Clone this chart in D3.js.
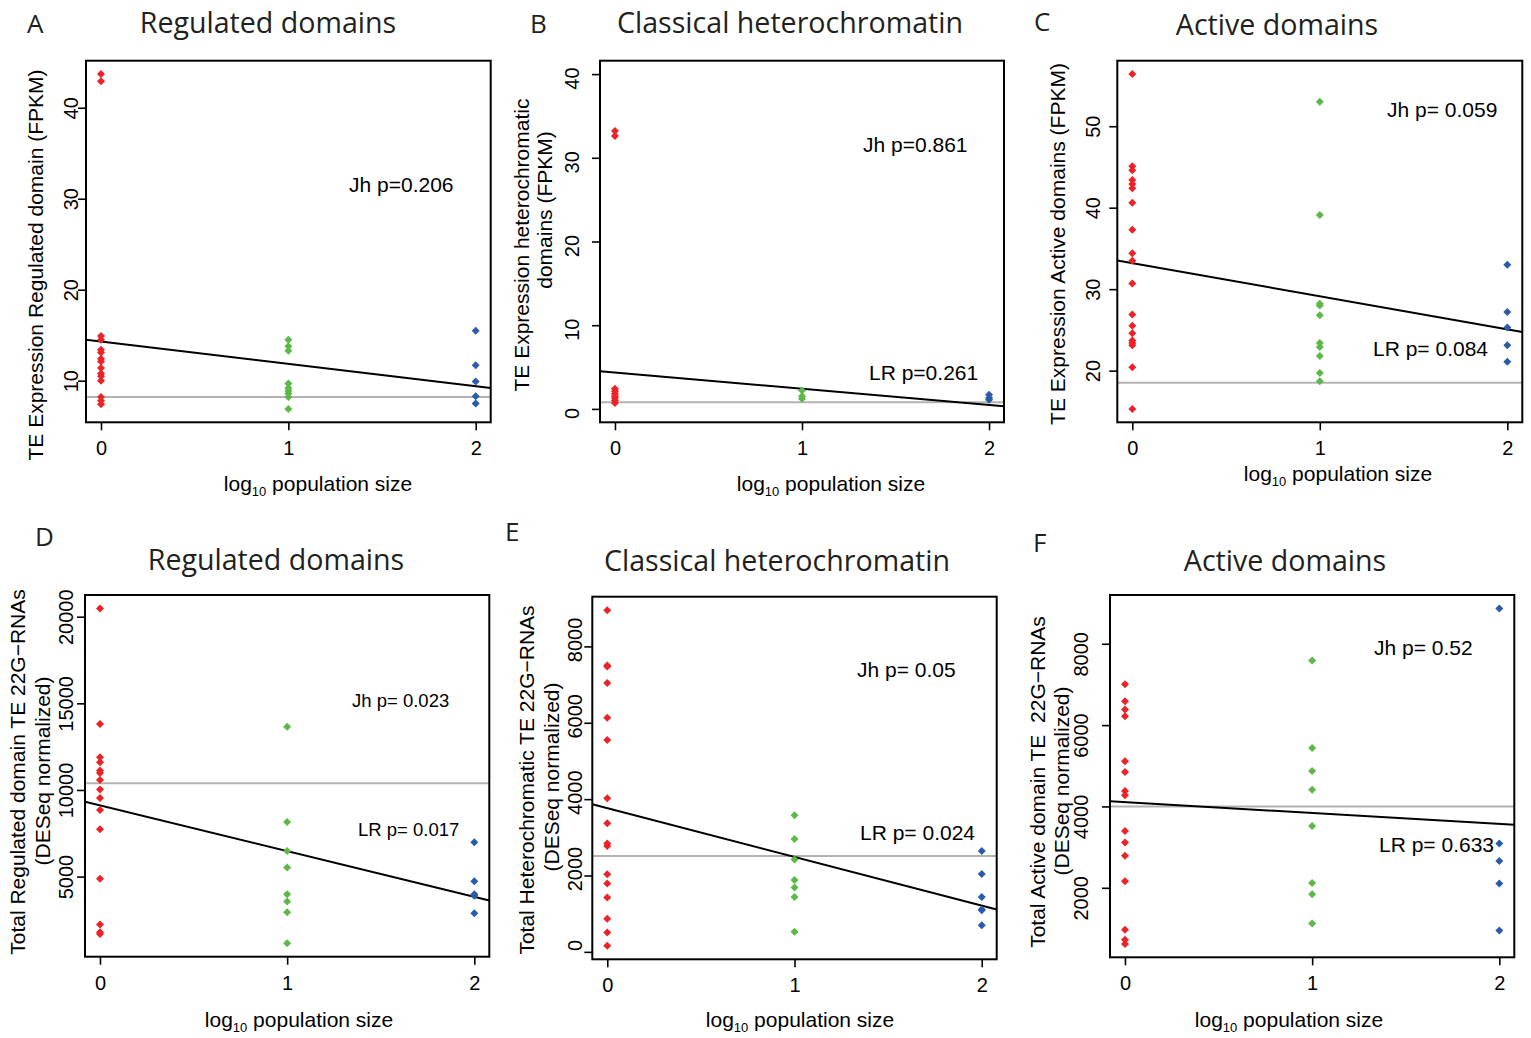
<!DOCTYPE html>
<html>
<head>
<meta charset="utf-8">
<script src="https://cdn.jsdelivr.net/npm/d3@7.9.0/dist/d3.min.js"></script>
<style>
  body { margin: 0; background: #fff; }
  svg { display: block; }
  text { font-family: "Liberation Sans", Arial, sans-serif; fill: #000; }
  .title, .letter { font-family: "Open Sans", "Noto Sans", sans-serif; fill: #231f20; }
</style>
</head>
<body>
<svg id="fig" width="1531" height="1038"></svg>
<script>
// x positions: log10 population size for the three groups (red, green, blue)
const popSize = [0, 1, 2];
const groupColors = ['#ec2227', '#5cb947', '#2a5ba8'];

// A: TE expression, regulated domains (FPKM)
const regExprRed = [43.7, 42.9, 14.9, 14.5, 13.4, 13.1, 12.4, 12.1, 11.4, 10.8, 10.5, 10.0, 8.2, 7.8, 7.4];
const regExprGreen = [14.5, 13.8, 13.3, 9.7, 9.2, 8.9, 8.6, 8.2, 6.9];
const regExprBlue = [15.5, 11.7, 9.9, 8.3, 7.5];
const regExprFit = [14.3, -2.45];   // intercept, slope
const regExprMean = 8.2;

// B: TE expression, heterochromatic domains (FPKM)
const hetExprRed = [33.2, 32.6, 2.4, 2.1, 1.8, 1.5, 1.3, 1.0, 0.7];
const hetExprGreen = [2.2, 1.5, 1.2];
const hetExprBlue = [1.7, 1.3, 1.1];
const hetExprFit = [4.35, -1.94];
const hetExprMean = 0.8;

// C: TE expression, active domains (FPKM)
const actExprRed = [56.4, 45.1, 44.6, 43.4, 42.9, 42.4, 40.6, 37.3, 34.4, 33.5, 30.7, 26.9, 25.5, 24.6, 23.7, 23.4, 23.1, 20.4, 15.3];
const actExprGreen = [53.0, 39.1, 28.2, 28.0, 26.8, 23.4, 22.9, 21.8, 19.7, 18.7];
const actExprBlue = [33.0, 27.2, 25.3, 23.1, 21.1];
const actExprFit = [33.2, -4.07];
const actExprMean = 18.5;

// D: total regulated domain TE 22G-RNAs
const reg22gRed = [20480, 13810, 11890, 11600, 11120, 10980, 10580, 10020, 9540, 8850, 7730, 4870, 2230, 1790, 1690];
const reg22gGreen = [13650, 8150, 6480, 5520, 3980, 3560, 2940, 1150];
const reg22gBlue = [6980, 4730, 3980, 3890, 2890];
const reg22gFit = [9115, -2644];
const reg22gMean = 10385;

// E: total heterochromatic TE 22G-RNAs
const het22gRed = [8950, 7500, 7475, 7040, 6130, 5550, 4020, 3370, 2840, 2770, 2030, 1790, 1425, 866, 507, 157];
const het22gGreen = [3576, 2955, 2422, 1880, 1687, 1434, 525];
const het22gBlue = [2640, 2037, 1434, 1110, 1093, 699];
const het22gFit = [3762, -1275];
const het22gMean = 2509;

// F: total active domain TE 22G-RNAs
const act22gRed = [7006, 6588, 6382, 6218, 5110, 4848, 4380, 4273, 3395, 3116, 2788, 2164, 966, 720, 621];
const act22gGreen = [7589, 5439, 4872, 4413, 3518, 2115, 1844, 1122];
const act22gBlue = [8869, 3092, 2657, 2107, 950];
const act22gFit = [4105, -266];
const act22gMean = 4000;

// tick labels
const yTicksA = [10, 20, 30, 40];
const yTicksB = [0, 10, 20, 30, 40];
const yTicksC = [20, 30, 40, 50];
const yTicksD = [5000, 10000, 15000, 20000];
const yTicksE = [0, 2000, 4000, 6000, 8000];
const yTicksF = [2000, 4000, 6000, 8000];

const panels = [
  { letter: 'A', letterPos: [27, 33], title: 'Regulated domains', titlePos: [268, 33],
    series: [regExprRed, regExprGreen, regExprBlue], fit: regExprFit, mean: regExprMean, yTicks: yTicksA,
    box: [86, 60.7, 490.7, 422.3], tickGap: 8, tickShift: 0,
    ylab: [['TE Expression Regulated domain (FPKM)', 43, 265]], xlab: [318, 491],
    notes: [['Jh p=0.206', 349, 192, 21]] },
  { letter: 'B', letterPos: [530, 33], title: 'Classical heterochromatin', titlePos: [790, 33],
    series: [hetExprRed, hetExprGreen, hetExprBlue], fit: hetExprFit, mean: hetExprMean, yTicks: yTicksB, ylim: [0, 40],
    box: [600, 60.7, 1004, 422.3], tickGap: 21, tickShift: 4,
    ylab: [['TE Expression heterochromatic', 529, 245], ['domains (FPKM)', 552, 210]], xlab: [831, 491],
    notes: [['Jh p=0.861', 863, 152, 21], ['LR p=0.261', 869, 380, 21]] },
  { letter: 'C', letterPos: [1034, 31], title: 'Active domains', titlePos: [1277, 35],
    series: [actExprRed, actExprGreen, actExprBlue], fit: actExprFit, mean: actExprMean, yTicks: yTicksC,
    box: [1117.3, 60.7, 1522.3, 422.3], tickGap: 17, tickShift: 0,
    ylab: [['TE Expression Active domains (FPKM)', 1065, 244]], xlab: [1338, 481],
    notes: [['Jh p= 0.059', 1387, 117, 21], ['LR p= 0.084', 1373, 356, 21]] },
  { letter: 'D', letterPos: [35, 546], title: 'Regulated domains', titlePos: [276, 570],
    series: [reg22gRed, reg22gGreen, reg22gBlue], fit: reg22gFit, mean: reg22gMean, yTicks: yTicksD,
    box: [85, 595, 489.3, 956.7], tickGap: 12, tickShift: 0,
    ylab: [['Total Regulated domain TE 22G\u2212RNAs', 25, 772], ['(DESeq normalized)', 50, 771]], xlab: [299, 1027],
    notes: [['Jh p= 0.023', 352, 707, 18.5], ['LR p= 0.017', 358, 836, 18.5]] },
  { letter: 'E', letterPos: [505, 541], title: 'Classical heterochromatin', titlePos: [777, 571],
    series: [het22gRed, het22gGreen, het22gBlue], fit: het22gFit, mean: het22gMean, yTicks: yTicksE,
    box: [592.3, 596.7, 996.7, 959.3], tickGap: 10, tickShift: -7,
    ylab: [['Total Heterochromatic TE 22G\u2212RNAs', 534, 780], ['(DESeq normalized)', 559, 777]], xlab: [800, 1027],
    notes: [['Jh p= 0.05', 857, 677, 21], ['LR p= 0.024', 860, 840, 21]] },
  { letter: 'F', letterPos: [1033, 552], title: 'Active domains', titlePos: [1285, 571],
    series: [act22gRed, act22gGreen, act22gBlue], fit: act22gFit, mean: act22gMean, yTicks: yTicksF,
    box: [1110, 595, 1514.3, 957.3], tickGap: 22, tickShift: 10,
    ylab: [['Total Active domain TE \u00a022G\u2212RNAs', 1045, 782], ['(DESeq normalized)', 1069, 781]], xlab: [1289, 1027],
    notes: [['Jh p= 0.52', 1374, 655, 21], ['LR p= 0.633', 1379, 852, 21]] }
];

const svg = d3.select('#fig');
const diamond = d3.symbol().type(d3.symbolSquare).size(32);

panels.forEach((p, k) => {
  const [left, top, right, bottom] = p.box;
  const all = p.series.flat();
  let lo = p.ylim ? p.ylim[0] : d3.min(all);
  let hi = p.ylim ? p.ylim[1] : d3.max(all);
  const pad = (hi - lo) * 0.04;

  const x = d3.scaleLinear().domain([-0.08, 2.08]).range([left, right]);
  const y = d3.scaleLinear().domain([lo - pad, hi + pad]).range([bottom, top]);

  const g = svg.append('g');

  g.append('clipPath').attr('id', 'clip' + k)
    .append('rect').attr('x', left).attr('y', top).attr('width', right - left).attr('height', bottom - top);

  const lines = g.append('g').attr('clip-path', `url(#clip${k})`);
  lines.append('line')
    .attr('x1', x(-0.08)).attr('x2', x(2.08))
    .attr('y1', y(p.mean)).attr('y2', y(p.mean))
    .attr('stroke', '#b3b3b3').attr('stroke-width', 2);

  const fitX = [-0.08, 2.08];
  lines.append('path')
    .datum(fitX)
    .attr('d', d3.line().x(d => x(d)).y(d => y(p.fit[0] + p.fit[1] * d)))
    .attr('stroke', '#000').attr('stroke-width', 2).attr('fill', 'none');

  p.series.forEach((vals, i) => {
    g.append('g').selectAll('path')
      .data(vals)
      .enter()
      .append('path')
        .attr('d', diamond)
        .attr('transform', d => `translate(${x(popSize[i])},${y(d)}) rotate(45)`)
        .attr('fill', groupColors[i]);
  });

  g.append('rect')
    .attr('x', left).attr('y', top).attr('width', right - left).attr('height', bottom - top)
    .attr('fill', 'none').attr('stroke', '#000').attr('stroke-width', 2);

  // x axis
  const xAxis = g.append('g').attr('transform', `translate(0,${bottom})`)
    .call(d3.axisBottom(x).tickValues(popSize).tickSize(8).tickPadding(11).tickFormat(d3.format('d')));
  xAxis.select('.domain').remove();
  xAxis.selectAll('line').attr('stroke-width', 1.6);
  xAxis.selectAll('text').attr('font-size', 20).attr('font-family', '"Liberation Sans", Arial, sans-serif').attr('fill', '#000');

  // y axis with labels parallel to the axis
  const yAxis = g.append('g').attr('transform', `translate(${left},0)`)
    .call(d3.axisLeft(y).tickValues(p.yTicks).tickSize(8).tickFormat(d3.format('d')));
  yAxis.select('.domain').remove();
  yAxis.selectAll('line').attr('stroke-width', 1.6);
  yAxis.selectAll('text')
    .attr('font-size', 20).attr('font-family', '"Liberation Sans", Arial, sans-serif').attr('fill', '#000')
    .attr('text-anchor', 'middle').attr('transform', 'rotate(-90)')
    .attr('x', -p.tickShift).attr('y', -p.tickGap).attr('dy', 0);

  // axis titles
  const xl = g.append('text').attr('x', p.xlab[0]).attr('y', p.xlab[1])
    .attr('text-anchor', 'middle').attr('font-size', 21);
  xl.append('tspan').text('log');
  xl.append('tspan').attr('font-size', 13).attr('dy', 5).text('10');
  xl.append('tspan').attr('dy', -5).text(' population size');

  p.ylab.forEach(([txt, bx, cy]) => {
    g.append('text')
      .attr('transform', `translate(${bx},${cy}) rotate(-90)`)
      .attr('text-anchor', 'middle').attr('font-size', 21)
      .attr('xml:space', 'preserve')
      .text(txt);
  });

  p.notes.forEach(([txt, nx, ny, fs]) => {
    g.append('text').attr('x', nx).attr('y', ny).attr('font-size', fs).text(txt);
  });

  g.append('text').attr('class', 'title')
    .attr('x', p.titlePos[0]).attr('y', p.titlePos[1])
    .attr('text-anchor', 'middle').attr('font-size', 28.6).text(p.title);
  g.append('text').attr('class', 'letter')
    .attr('x', p.letterPos[0]).attr('y', p.letterPos[1])
    .attr('font-size', 26).text(p.letter);
});
</script>
</body>
</html>
